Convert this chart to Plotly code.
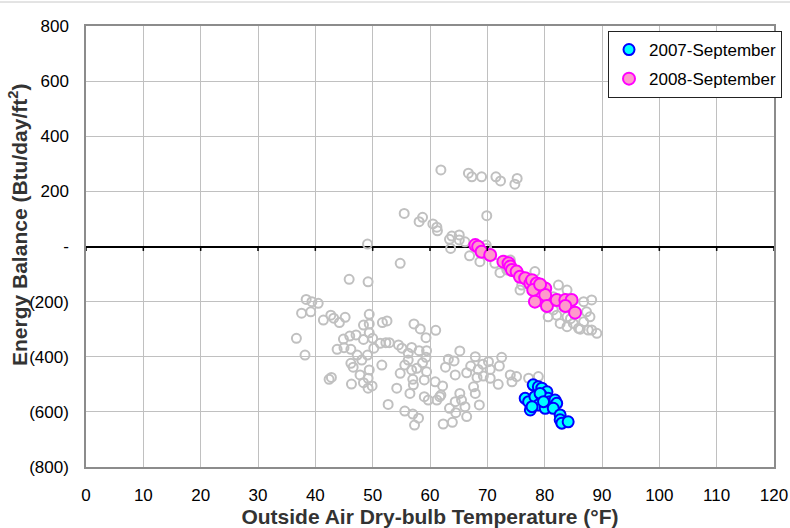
import plotly.graph_objects as go

# ---- data ----
all_x = [61.9, 66.7, 67.3, 69.0, 71.5, 72.3, 75.2, 74.8, 69.9, 55.5, 58.7, 58.1, 60.5, 61.2, 61.3,
         63.8, 65.1, 63.4, 65.1, 63.6, 66.9, 69.8, 49.1, 66.1, 68.7, 69.9, 71.3, 72.2, 74.0, 76.0,
         78.3, 75.7, 82.4, 81.5, 86.8, 88.2, 80.6, 82.1, 83.9, 85.0, 86.8, 87.6, 89.1, 81.5, 83.9,
         85.9, 87.3, 87.9, 83.9, 82.7, 88.2, 73.4, 77.0, 79.3, 79.4, 84.5, 86.2,
         54.8, 45.9, 49.2, 38.4, 39.4, 40.5, 37.6, 39.2, 41.4, 42.7, 43.2, 44.2, 45.2, 49.4, 48.4,
         49.4, 51.7, 52.5, 57.2, 58.3, 61.0, 59.3, 36.7, 44.9, 46.0, 47.1, 48.4, 49.4, 50.0, 43.8,
         45.0, 46.2, 47.3, 49.1, 50.2, 51.3, 52.3, 52.9, 54.5, 55.1, 56.8, 58.1, 59.4, 59.3, 56.2,
         38.2, 46.2, 46.6, 48.1, 49.4, 47.8, 49.2, 51.6, 42.4, 42.8, 46.3, 48.4, 49.2, 49.9, 54.8,
         55.6, 56.2, 56.8, 57.7, 58.7, 59.4, 57.0, 57.1, 59.0, 60.9, 62.2, 54.2, 56.5, 59.0, 59.7,
         61.2, 61.9, 52.7, 55.6, 57.0, 58.0, 57.3, 62.3, 63.9, 63.2, 62.7, 64.2, 65.2, 64.4, 66.4,
         67.9, 67.1, 68.4, 69.2, 70.2, 70.5, 72.1, 72.5, 68.2, 69.3, 70.5, 71.9, 74.0, 74.3, 75.1,
         67.6, 67.9, 65.2, 65.5, 66.1, 64.4, 63.4, 64.5, 66.4, 68.6, 61.7, 77.2, 78.9]
all_y = [278, 266, 253, 253, 253, 238, 247, 226, 112, 120, 106, 90, 82, 70, 57,
         38, 42, 26, 24, -7, -34, 5, 9, 17, -55, -7, -61, -95, -49, -140,
         -91, -158, -140, -182, -200, -194, -255, -249, -255, -279, -273, -303, -315, -230, -291,
         -297, -237, -255, -158, -279, -303, -85, -129, -176, -201, -262, -300,
         -61, -119, -128, -192, -200, -206, -242, -237, -267, -249, -260, -276, -257, -246, -285,
         -281, -276, -270, -281, -299, -304, -331, -333, -336, -325, -321, -337, -313, -333, -373,
         -367, -373, -394, -394, -369, -351, -349, -349, -357, -369, -366, -378, -378, -402, -387,
         -394, -424, -438, -412, -448, -466, -478, -430, -482, -475, -499, -494, -514, -506, -460,
         -430, -412, -448, -442, -422, -454, -482, -502, -484, -491, -506, -514, -533, -545, -557,
         -557, -539, -573, -597, -608, -623, -648, -644, -638, -409, -438, -415, -379, -466, -458,
         -400, -434, -446, -427, -418, -446, -434, -402, -475, -470, -478, -500, -466, -491, -472,
         -509, -533, -533, -557, -581, -563, -587, -603, -617, -575, -545, -478, -472]

sep2008_x = [67.9, 68.4, 69.0, 70.5, 72.8, 73.7, 74.0, 74.3, 75.1, 75.7, 76.6, 77.5, 77.8, 78.6,
             78.0, 80.1, 80.1, 78.3, 80.4, 82.1, 83.6, 84.7, 83.6, 85.3, 79.2]
sep2008_y = [5, -1, -19, -31, -55, -61, -73, -85, -91, -110, -115, -134, -122, -134,
             -158, -152, -176, -200, -216, -194, -194, -194, -216, -240, -138]

sep2007_x = [78.0, 78.9, 79.5, 80.4, 76.6, 77.2, 78.3, 79.5, 80.6, 77.5, 78.9, 80.1, 80.9, 81.8,
             82.1, 81.5, 82.7, 82.7, 83.0, 84.1, 77.8, 79.2, 79.8]
sep2007_y = [-502, -509, -514, -527, -551, -563, -545, -542, -551, -593, -575, -587, -563, -557,
             -569, -587, -611, -629, -641, -636, -581, -533, -563]

x_ticks = list(range(0, 121, 10))
y_ticks = [-800, -600, -400, -200, 0, 200, 400, 600, 800]
y_tick_labels = ["(800)", "(600)", "(400)", "(200)", "-", "200", "400", "600", "800"]

FONT = "Arial, Liberation Sans, sans-serif"

fig = go.Figure()

fig.add_trace(go.Scatter(
    x=all_x, y=all_y, mode="markers", showlegend=False, name="All",
    marker=dict(size=9, color="rgba(255,255,255,0)", line=dict(color="#c0c0c0", width=2)),
))
fig.add_trace(go.Scatter(
    x=sep2007_x, y=sep2007_y, mode="markers", name="2007-September", legendgroup="a",
    marker=dict(size=11, color="#00ffff", line=dict(color="#0000ff", width=2)),
))
fig.add_trace(go.Scatter(
    x=sep2008_x, y=sep2008_y, mode="markers", name="2008-September", legendgroup="b",
    marker=dict(size=12, color="#ff99cc", line=dict(color="#ff00ff", width=2)),
))

# tick marks on the zero line (horizontal axis crosses at 0)
for xv in x_ticks:
    fig.add_shape(type="line", xref="x", yref="y", x0=xv, x1=xv, y0=0, y1=-16,
                  line=dict(color="black", width=1.5))
# thin chart-area border line near the top of the image
fig.add_shape(type="line", xref="paper", yref="paper", x0=-0.125, x1=1.0233, y0=1.0544, y1=1.0544,
              line=dict(color="#c8c8c8", width=1))

# y-axis title (placed as in the reference, slightly above centre)
fig.add_annotation(
    text="<b>Energy Balance (Btu/day/ft<sup>2</sup>)</b>", textangle=-90,
    xref="paper", yref="paper", x=(18 - 86) / 688, y=(467 - 225) / 441,
    xanchor="center", yanchor="middle", showarrow=False,
    font=dict(size=21, color="#333333", family=FONT),
)

fig.update_layout(
    width=790, height=528,
    margin=dict(l=86, r=16, t=26, b=61, autoexpand=False),
    paper_bgcolor="white", plot_bgcolor="white",
    font=dict(family=FONT, size=17, color="black"),
    xaxis=dict(
        range=[0, 120], tickvals=x_ticks, showgrid=True, gridcolor="#c0c0c0", gridwidth=1,
        showline=True, linecolor="#8c8c8c", linewidth=1.5, mirror=True, zeroline=False,
        ticks="", ticklabelstandoff=12, tickfont=dict(size=17),
        title=dict(text="<b>Outside Air Dry-bulb Temperature (°F)</b>",
                   font=dict(size=21, color="#333333"), standoff=4),
    ),
    yaxis=dict(
        range=[-800, 800], tickvals=y_ticks, ticktext=y_tick_labels, showgrid=True,
        gridcolor="#c0c0c0", gridwidth=1, showline=True, linecolor="#8c8c8c", linewidth=1.5,
        mirror=True, zeroline=True, zerolinecolor="black", zerolinewidth=2,
        ticks="", ticklabelstandoff=12, tickfont=dict(size=17),
    ),
    legend=dict(
        xref="paper", yref="paper", x=(782 - 86) / 688, y=(467 - 31) / 441,
        xanchor="right", yanchor="top", bgcolor="white", bordercolor="#222222", borderwidth=1,
        font=dict(size=17, color="black"), tracegroupgap=4, itemwidth=30,
    ),
)

# remove the default 8px page margin so the 790x528 figure fills the window exactly
fig.write_html("out.html", config={"displayModeBar": False},
               post_script="document.body.style.margin='0';")
